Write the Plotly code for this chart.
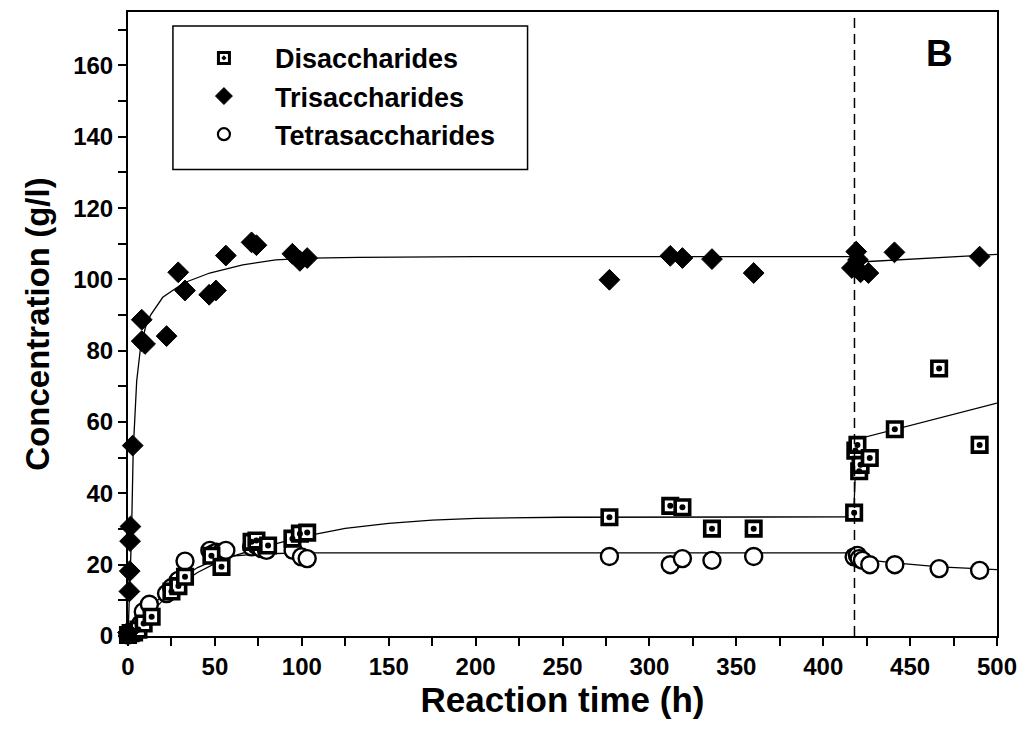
import plotly.graph_objects as go

# Measured concentrations (g/l) against reaction time (h)
di_time = [0, 1.5, 3.5, 6, 9, 13.6, 25, 29, 32.8, 48, 53.8, 71.1, 73.9, 80.6, 94.6, 98.9, 103.1,
           277, 312, 319, 336, 360, 417.8, 418.5, 419.7, 420.7, 421.5, 426.8, 441.2, 466.7, 490]
di_conc = [0.3, 0.8, 1.0, 1.8, 3.5, 5.4, 12.5, 14.0, 16.6, 22.5, 19.4, 26.4, 26.8, 25.4, 27.3, 28.7, 29.0,
           33.3, 36.5, 36.1, 30.1, 30.1, 34.6, 52.0, 53.6, 46.2, 48.0, 49.9, 58.0, 75.0, 53.6]

tri_time = [0, 0.8, 1.0, 1.2, 1.4, 2.7, 7.9, 7.9, 9.8, 22.2, 28.9, 32.8, 46.7, 50.6, 56.3, 71.1, 73.9,
            94.6, 98.9, 103.1, 277, 312, 319, 336, 360, 416.5, 419, 420, 421.5, 426, 441, 490]
tri_conc = [1.0, 12.5, 18.2, 26.6, 30.7, 53.4, 88.7, 82.7, 81.9, 84.1, 102.0, 96.9, 95.7, 96.9, 106.7,
            110.4, 109.6, 107.2, 105.2, 106.0, 99.9, 106.6, 106.0, 105.7, 101.8, 103.2, 107.8, 105.5,
            102.0, 101.8, 107.6, 106.4]

tetra_time = [0, 1, 3, 5, 7.3, 8.8, 12.3, 22.2, 25.1, 28.9, 32.8, 47.1, 49, 51, 53.8, 56.3, 71.1, 73.9,
              76.8, 79.7, 95, 99.8, 103.1, 277, 312, 319, 336, 360, 417.8, 419.7, 420.7, 422.6, 426.8,
              441.2, 466.7, 490]
tetra_conc = [0.3, 0.8, 0.7, 1.7, 3.4, 6.8, 8.9, 11.9, 13.6, 15.6, 21.0, 24.0, 23.1, 23.5, 23.5, 24.0,
              25.0, 25.4, 24.5, 24.0, 24.0, 22.2, 21.7, 22.3, 20.0, 21.7, 21.2, 22.3, 22.2, 22.6, 21.7,
              21.2, 20.0, 20.0, 18.9, 18.4]

# Fitted model curves
di_fit_time = [0, 5, 10, 15, 20, 30, 40, 50, 60, 75, 100, 125, 150, 175, 200, 250, 417.5, 418.5, 419.5, 500]
di_fit_conc = [0, 2.2, 4.8, 7.5, 10.0, 14.5, 17.8, 20.3, 22.3, 24.6, 27.8, 30.2, 31.6, 32.5, 33.0, 33.3,
               33.4, 46.0, 55.2, 65.3]

tri_fit_time = [0, 1, 2, 3, 4, 5, 7, 10, 13, 20, 32, 47, 66, 85, 105, 133, 200, 418, 421, 500]
tri_fit_conc = [0, 12, 28, 52, 64, 71.5, 80, 86.5, 90, 95, 99, 101.8, 104.1, 105.5, 106.0, 106.2, 106.4,
                106.4, 104.9, 107.0]

tetra_fit_time = [0, 5, 10, 20, 30, 40, 50, 60, 75, 100, 133, 418, 420, 441, 467, 500]
tetra_fit_conc = [0, 2.8, 6.5, 11.5, 16.0, 19.2, 21.3, 22.4, 23.0, 23.3, 23.3, 23.3, 21.6, 20.5, 19.4, 18.6]

switch_time = 418
series_names = ["Disaccharides", "Trisaccharides", "Tetrasaccharides"]

FONT = "Liberation Sans, Arial, sans-serif"
BLACK = "black"

fig = go.Figure()

# Fit lines
for t, c in [(di_fit_time, di_fit_conc), (tri_fit_time, tri_fit_conc), (tetra_fit_time, tetra_fit_conc)]:
    fig.add_trace(go.Scatter(x=t, y=c, mode="lines", line=dict(color=BLACK, width=1.3),
                             showlegend=False, hoverinfo="skip", cliponaxis=False))

# Tetrasaccharides: open circles
fig.add_trace(go.Scatter(x=tetra_time, y=tetra_conc, mode="markers", name=series_names[2],
                         marker=dict(symbol="circle", size=17, color="white",
                                     line=dict(color=BLACK, width=2.4)),
                         showlegend=False, cliponaxis=False))
# Disaccharides: open squares with a centre dot
fig.add_trace(go.Scatter(x=di_time, y=di_conc, mode="markers", name=series_names[0],
                         marker=dict(symbol="square", size=14.5, color="white",
                                     line=dict(color=BLACK, width=3.6)),
                         showlegend=False, cliponaxis=False))
fig.add_trace(go.Scatter(x=di_time, y=di_conc, mode="markers", name=series_names[0],
                         marker=dict(symbol="circle", size=6, color=BLACK, line=dict(width=0)),
                         showlegend=False, hoverinfo="skip", cliponaxis=False))
# Trisaccharides: filled diamonds
fig.add_trace(go.Scatter(x=tri_time, y=tri_conc, mode="markers", name=series_names[1],
                         marker=dict(symbol="diamond", size=16, color=BLACK,
                                     line=dict(color=BLACK, width=1)),
                         showlegend=False, cliponaxis=False))

# Legend entries
legend_styles = [
    dict(symbol="square-dot", size=11, color="white", line=dict(color=BLACK, width=3)),
    dict(symbol="diamond", size=13, color=BLACK, line=dict(color=BLACK, width=1)),
    dict(symbol="circle", size=12, color="white", line=dict(color=BLACK, width=2.2)),
]
for i, name in enumerate(series_names):
    fig.add_trace(go.Scatter(x=[None], y=[None], mode="markers", marker=legend_styles[i],
                             name=name, legendgroup=name, showlegend=True))

# Substrate addition marker
fig.add_shape(type="line", xref="x", yref="y", x0=switch_time, x1=switch_time, y0=0, y1=175,
              line=dict(color=BLACK, width=1.5, dash="10px,6px"))

# Legend frame
fig.add_shape(type="rect", xref="paper", yref="paper", x0=0.0517, x1=0.4598, y0=0.7476, y1=0.9776,
              line=dict(color=BLACK, width=1.5), fillcolor="rgba(0,0,0,0)")

fig.add_annotation(text="B", xref="x", yref="y", x=467, y=163.5, showarrow=False,
                   font=dict(family=FONT, size=37, color=BLACK, weight="bold"))

fig.update_layout(
    width=1027, height=749,
    margin=dict(l=128, r=29, t=10, b=113),
    paper_bgcolor="white", plot_bgcolor="white",
    font=dict(family=FONT, color=BLACK, weight="bold"),
    showlegend=True,
    legend=dict(x=0.0517, xanchor="left", y=0.9649, yanchor="top",
                bgcolor="rgba(0,0,0,0)", borderwidth=0, itemwidth=92,
                tracegroupgap=0, traceorder="grouped",
                font=dict(family=FONT, size=27, color=BLACK, weight="bold")),
    xaxis=dict(range=[0, 500], dtick=50, tick0=0, showgrid=False, zeroline=False,
               showline=True, linecolor=BLACK, linewidth=2, mirror=True,
               ticks="outside", ticklen=8, tickwidth=2, tickcolor=BLACK,
               minor=dict(dtick=25, ticks="outside", ticklen=8, tickwidth=2, tickcolor=BLACK),
               tickfont=dict(family=FONT, size=24, color=BLACK, weight="bold"),
               title=dict(text="Reaction time (h)", standoff=6,
                          font=dict(family=FONT, size=35, color=BLACK, weight="bold"))),
    yaxis=dict(range=[0, 175], dtick=20, tick0=0, showgrid=False, zeroline=False,
               showline=True, linecolor=BLACK, linewidth=2, mirror=True,
               ticks="outside", ticklen=8, tickwidth=2, tickcolor=BLACK,
               minor=dict(dtick=10, ticks="outside", ticklen=8, tickwidth=2, tickcolor=BLACK),
               tickfont=dict(family=FONT, size=24, color=BLACK, weight="bold"),
               title=dict(text="Concentration (g/l)", standoff=14,
                          font=dict(family=FONT, size=33, color=BLACK, weight="bold"))),
)

fig.write_html("out.html")
